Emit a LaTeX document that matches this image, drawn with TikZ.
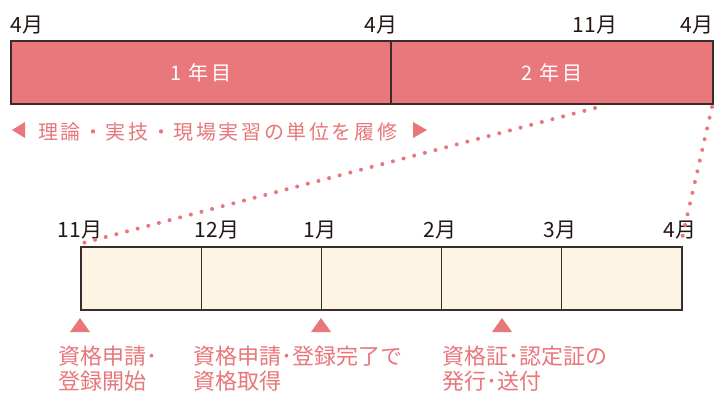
\documentclass[tikz,border=0pt]{standalone}
\usepackage{fontspec}
\setmainfont{Noto Sans CJK JP}
\newfontfamily\spacedjp[LetterSpace=13]{Noto Sans CJK JP}
\definecolor{pinkfill}{HTML}{E8787C}
\definecolor{pinktext}{HTML}{E8767A}
\definecolor{cream}{HTML}{FDF5E3}
\definecolor{edge}{HTML}{3A2C2C}
\definecolor{ink}{HTML}{231815}
\tikzset{
  yearbox/.style={draw=edge, line width=1.1pt, fill=pinkfill, minimum height=63pt, inner sep=0pt, text=white, font=\spacedjp\fontsize{20}{20}\selectfont},
  monthbox/.style={draw=edge, line width=1.3pt, fill=cream, minimum height=63pt, minimum width=120.2pt, inner sep=0pt},
  month/.style={anchor=base, inner sep=0pt, text=ink, font=\fontsize{21}{21}\selectfont},
  note/.style={anchor=base west, inner sep=0pt, text=pinktext, font=\fontsize{22}{22}\selectfont},
  dotline/.style={draw=pinktext, line width=4pt, line cap=round, dash pattern=on 0pt off 11pt},
  marker/.style={fill=pinktext, draw=none}
}
\begin{document}
\begin{tikzpicture}[x=1pt,y=-1pt]
\clip (0,0) rectangle (715,394);
\fill[white] (0,0) rectangle (715,394);
% top bar
\node[yearbox, minimum width=380pt] (y1) at (201,72.5) {1 年目};
\node[yearbox, minimum width=322pt] (y2) at (552,72.5) {2 年目};
% top month labels
\node[month] (t1) at (27,32) {4月};
\node[month] (t2) at (381,32) {4月};
\node[month] (t3) at (595,32) {11月};
\node[month] (t4) at (697,32) {4月};
% study line
\fill[marker] (12,130) -- (25,122) -- (25,138) -- cycle;
\node[anchor=base west, inner sep=0pt, text=pinktext, font=\spacedjp\fontsize{20}{20}\selectfont] (study) at (38,139) {理論・実技・現場実習の単位を履修};
\fill[marker] (427,130) -- (413,122) -- (413,138) -- cycle;
% bottom bar
\node[monthbox] (m1) at (141.1,278.5) {};
\node[monthbox] (m2) at (261.3,278.5) {};
\node[monthbox] (m3) at (381.5,278.5) {};
\node[monthbox] (m4) at (501.7,278.5) {};
\node[monthbox] (m5) at (621.9,278.5) {};
% bottom month labels
\node[month] (b1) at (80,237) {11月};
\node[month] (b2) at (217,237) {12月};
\node[month] (b3) at (320,237) {1月};
\node[month] (b4) at (440,237) {2月};
\node[month] (b5) at (560,237) {3月};
\node[month] (b6) at (680,237) {4月};
% dotted connectors
\coordinate (c1) at (595,108);
\coordinate (c2) at (83,243);
\coordinate (c3) at (712,107);
\coordinate (c4) at (681,243);
\draw[dotline] (c1) -- (c2);
\draw[dotline] (c3) -- (c4);
% markers
\fill[marker] (70,332) -- (90,332) -- (80,318) -- cycle;
\fill[marker] (311,332) -- (331,332) -- (321,318) -- cycle;
\fill[marker] (492,332) -- (512,332) -- (502,318) -- cycle;
% notes
\node[note] (n1a) at (58,364) {資格申請･};
\node[note] (n1b) at (58,389) {登録開始};
\node[note] (n2a) at (193,364) {資格申請･登録完了で};
\node[note] (n2b) at (193,389) {資格取得};
\node[note] (n3a) at (442,364) {資格証･認定証の};
\node[note] (n3b) at (442,389) {発行･送付};
\end{tikzpicture}
\end{document}
